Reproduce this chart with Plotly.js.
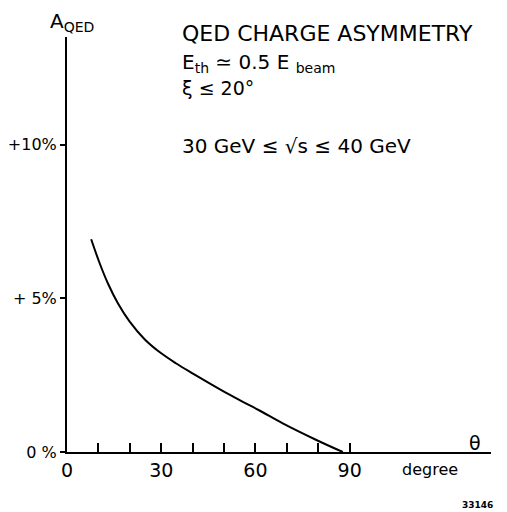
<!DOCTYPE html>
<html>
<head>
<meta charset="utf-8">
<script src="https://cdn.plot.ly/plotly-3.0.1.min.js"></script>
<style>html,body{margin:0;padding:0;background:#fff;}#chart{width:507px;height:512px;}</style>
</head>
<body>
<div id="chart"></div>
<script>
// Data
var theta = [7.7, 10.4, 13.0, 16.2, 19.9, 24.7, 30.0, 34.8, 40.1, 45.4, 50.7, 56.0, 61.3, 68.7, 79.4, 87.8];
var aqed  = [6.92, 6.14, 5.49, 4.84, 4.25, 3.67, 3.21, 2.88, 2.55, 2.23, 1.92, 1.63, 1.35, 0.93, 0.39, 0.0];

var xTickVals = [0, 10, 20, 30, 40, 50, 60, 70, 80, 90];
var xTickText = ['0', '', '', '30', '', '', '60', '', '', '90'];
var yTickVals = [0, 5, 10];
var yTickText = ['0 %', '+ 5%', '+10%'];

var FONT = 'DejaVu Sans, Liberation Sans, sans-serif';

var trace = {
  x: theta, y: aqed, type: 'scatter', mode: 'lines',
  line: {color: '#000', width: 2, shape: 'spline', smoothing: 1.0},
  hoverinfo: 'skip'
};

function ann(text, x, y, size, xa, ya) {
  return {text: text, x: x, y: y, xref: 'paper', yref: 'paper',
    xanchor: xa || 'left', yanchor: ya || 'middle', showarrow: false,
    font: {family: FONT, size: size, color: '#000'}};
}

var layout = {
  width: 507, height: 512,
  margin: {l: 67, r: 16, t: 37, b: 60},
  paper_bgcolor: '#fff', plot_bgcolor: '#fff',
  showlegend: false,
  xaxis: {
    range: [0, 135], showgrid: false, zeroline: false,
    showline: true, linecolor: '#000', linewidth: 2,
    tickmode: 'array', tickvals: xTickVals, ticktext: xTickText,
    ticks: 'inside', ticklen: 9, tickwidth: 2, tickcolor: '#000',
    tickfont: {family: FONT, size: 19, color: '#000'}
  },
  yaxis: {
    range: [0, 13.5], showgrid: false, zeroline: false,
    showline: true, linecolor: '#000', linewidth: 2,
    tickmode: 'array', tickvals: yTickVals, ticktext: yTickText,
    ticks: 'outside', ticklen: 5, tickwidth: 2, tickcolor: '#000',
    tickfont: {family: FONT, size: 16, color: '#000'}
  },
  annotations: [
    ann('A<sub>QED</sub>', -0.045, 1.036, 20),
    ann('QED CHARGE ASYMMETRY', 0.266, 1.0096, 22),
    ann('E<sub>th</sub> ≃ 0.5 E <sub>beam</sub>', 0.266, 0.937, 20),
    ann('ξ ≤ 20°', 0.266, 0.877, 19),
    ann('30 GeV ≤ √s ≤ 40 GeV', 0.266, 0.737, 20),
    ann('θ', 0.962, 0.022, 19, 'center'),
    ann('degree', 0.856, -0.043, 16, 'center'),
    ann('<b>33146</b>', 0.967, -0.128, 9, 'center')
  ]
};

Plotly.newPlot('chart', [trace], layout, {displayModeBar: false, staticPlot: true});
</script>
</body>
</html>
